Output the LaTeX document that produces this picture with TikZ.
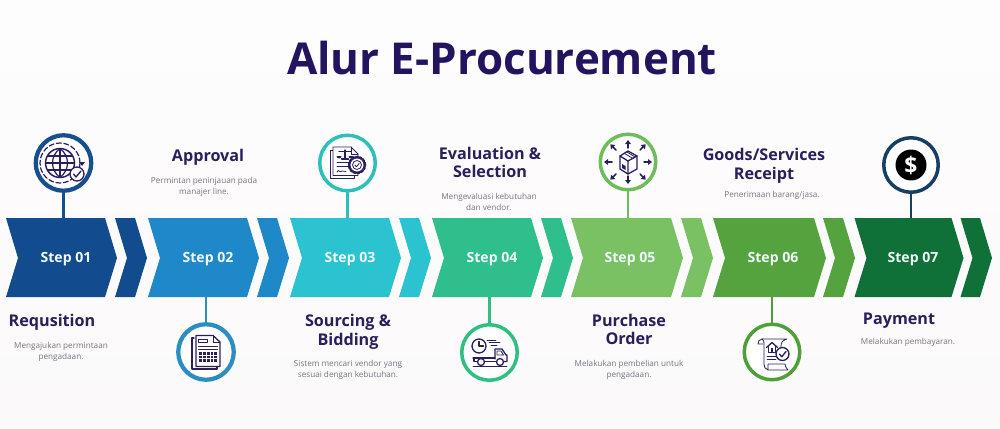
\documentclass[tikz,border=0pt]{standalone}
\usepackage{fontspec}
\setmainfont{Open Sans}
\newfontfamily\headfont{Open Sans}
\usetikzlibrary{calc}
\definecolor{ink}{HTML}{2A1E5C}
\definecolor{titleink}{HTML}{24135F}
\definecolor{bodyg}{HTML}{77757F}
\definecolor{bgtop}{HTML}{FEFDFD}
\definecolor{bgbot}{HTML}{FBF9FA}
\definecolor{cA}{HTML}{134B8F}
\definecolor{cB}{HTML}{1F88C9}
\definecolor{cC}{HTML}{2CC3D0}
\definecolor{cD}{HTML}{2FBF8C}
\definecolor{cE}{HTML}{79C163}
\definecolor{cF}{HTML}{54A33F}
\definecolor{cG}{HTML}{0F7038}
\definecolor{rA}{HTML}{174F8C}
\definecolor{rB}{HTML}{2A8FC0}
\definecolor{rC}{HTML}{2FBFBB}
\definecolor{rD}{HTML}{2FBF80}
\definecolor{rE}{HTML}{6FBC5C}
\definecolor{rF}{HTML}{4E9E3A}
\definecolor{rG}{HTML}{173F66}
\tikzset{
  x=0.02cm,y=-0.02cm,
  titletext/.style={font=\headfont\bfseries\fontsize{25}{30}\selectfont,text=titleink,inner sep=0pt},
  headtext/.style={font=\headfont\bfseries\fontsize{9.2}{10.6}\selectfont,text=ink,align=center,inner sep=0pt},
  bodytext/.style={font=\fontsize{4.65}{6.25}\selectfont,text=bodyg,align=center,inner sep=0pt},
  steptext/.style={font=\bfseries\fontsize{8}{9}\selectfont,text=white!94!cyan,inner sep=0pt},
  ringnode/.style={circle,draw=#1,fill=white,line width=0.085cm,minimum size=1.11cm,inner sep=0pt},
  link/.style={line width=0.045cm},
  ic/.style={draw=ink,line width=0.016cm,line join=round,line cap=round},
  icthick/.style={draw=ink,line width=0.026cm,line join=round,line cap=round},
}
% x, colour, body width, small offset, small width
\newcommand{\chevs}[5]{%
  \fill[#2] (#1,218) -- ++(#3,0) -- ++(12,40) -- ++(-12,39) -- (#1,297) -- ++(12,-39) -- cycle;
  \fill[#2] ({#1+#4},218) -- ++(#5,0) -- ++(12,40) -- ++(-12,39) -- ({#1+#4},297) -- ++(12,-39) -- cycle;
}
\begin{document}
\begin{tikzpicture}
\useasboundingbox (0,0) rectangle (1000,429);
\shade[top color=bgtop,bottom color=bgbot] (0,0) rectangle (1000,429);

\node[titletext] (title) at (502,58) {Alur E-Procurement};

% chevrons
\chevs{6}{cA}{99}{109}{20}
\chevs{148}{cB}{99}{109}{20}
\chevs{290}{cC}{99}{109}{20}
\chevs{432}{cD}{99}{109}{20}
\chevs{571}{cE}{100}{110}{20}
\chevs{713}{cF}{101}{110}{20}
\chevs{854.5}{cG}{97}{106}{19.5}

\node[steptext] (s1) at (66,259.5) {Step 01};
\node[steptext] (s2) at (208,259.5) {Step 02};
\node[steptext] (s3) at (350,259.5) {Step 03};
\node[steptext] (s4) at (492,259.5) {Step 04};
\node[steptext] (s5) at (630,259.5) {Step 05};
\node[steptext] (s6) at (773,259.5) {Step 06};
\node[steptext] (s7) at (913,259.5) {Step 07};

% anchors on the chevrons
\coordinate (a1) at (63.5,218);
\coordinate (a2) at (206,297);
\coordinate (a3) at (347.5,218);
\coordinate (a4) at (489.5,297);
\coordinate (a5) at (628,218);
\coordinate (a6) at (772,297);
\coordinate (a7) at (911,218);

% circles
\node[ringnode=rA] (c1) at (63.5,163) {};
\node[ringnode=rB] (c2) at (206,352) {};
\node[ringnode=rC,line width=0.07cm] (c3) at (347.5,163) {};
\node[ringnode=rD,line width=0.07cm] (c4) at (489.5,352.5) {};
\node[ringnode=rE,line width=0.07cm] (c5) at (628,162) {};
\node[ringnode=rF,line width=0.07cm] (c6) at (772,352) {};
\node[ringnode=rG,line width=0.07cm,minimum size=1.09cm] (c7) at (911,165) {};

% connectors
\draw[link,draw=rA] (c1) -- (a1);
\draw[link,draw=rB] (c2) -- (a2);
\draw[link,draw=rC] (c3) -- (a3);
\draw[link,draw=rD] (c4) -- (a4);
\draw[link,draw=rE] (c5) -- (a5);
\draw[link,draw=rF] (c6) -- (a6);
\draw[link,draw=rG] (c7) -- (a7);

% labels
\node[headtext] (h1) at (52,322) {Requsition};
\node[bodytext] (b1) at (61,351.5) {Mengajukan permintaan\\pengadaan.};
\node[headtext] (h2) at (208,157) {Approval};
\node[bodytext] (b2) at (204,186.5) {Permintan peninjauan pada\\manajer line.};
\node[headtext] (h3) at (348,331.5) {Sourcing \&\\Bidding};
\node[bodytext] (b3) at (348,369.5) {Sistem mencari vendor yang\\sesuai dengan kebutuhan.};
\node[headtext] (h4) at (490,162.5) {Evaluation \&\\Selection};
\node[bodytext] (b4) at (489,202) {Mengevaluasi kebutuhan\\dan vendor.};
\node[headtext] (h5) at (629,329.5) {Purchase\\Order};
\node[bodytext] (b5) at (629,369.5) {Melakukan pembelian untuk\\pengadaan.};
\node[headtext] (h6) at (764,166) {Goods/Services\\Receipt};
\node[bodytext] (b6) at (772,195.5) {Penerimaan barang/jasa.};
\node[headtext] (h7) at (899,321) {Payment};
\node[bodytext] (b7) at (908,342.5) {Melakukan pembayaran.};

% icon 1: globe
\begin{scope}[shift={(60,163)}]
  \draw[ic,line width=0.03cm] (0,0) circle[radius=0.29cm];
  \draw[ic,line width=0.024cm] (0,-14.5) .. controls (-10,-7) and (-10,7) .. (0,14.5);
  \draw[ic,line width=0.024cm] (0,-14.5) .. controls (10,-7) and (10,7) .. (0,14.5);
  \draw[ic,line width=0.024cm] (0,-14.5) -- (0,14.5) (-14.5,0) -- (14.5,0) (-12.5,-7) -- (12.5,-7) (-12.5,7) -- (12.5,7);
  \draw[ic,line width=0.024cm,dashed,dash pattern=on 0.1cm off 0.05cm] (0,0) circle[radius=0.4cm];
  \fill[ink] (19,-1) -- (25,-1) -- (22,3) -- cycle;
  \draw[icthick,fill=white] (17,11) circle[radius=0.14cm];
  \draw[icthick] (13.5,11) -- (16,14) -- (21,8);
\end{scope}

% icon 2: document with table
\begin{scope}[shift={(192,335)}]
  \draw[icthick] (2,3) -- (0,3) -- (0,34) -- (25,34) -- (25,32);
  \draw[icthick,fill=white] (4,0.5) -- (21,0.5) -- (28,7) -- (28,31.5) -- (4,31.5) -- cycle;
  \draw[ic] (21,0.5) -- (21,7) -- (28,7);
  \draw[ic] (6.5,4) rectangle (15,7);
  \draw[ic] (6.5,11) -- (25.5,11) (6.5,14) -- (25.5,14);
  \fill[ink] (7,17) rectangle (25,27);
  \draw[white,line width=0.008cm] (7,20.3) -- (25,20.3) (7,23.6) -- (25,23.6)
     (10.6,17) -- (10.6,27) (14.2,17) -- (14.2,27) (17.8,17) -- (17.8,27) (21.4,17) -- (21.4,27);
\end{scope}

% icon 3: contract with scales and gear
\begin{scope}[shift={(330,145)}]
  \draw[ic] (3,5) -- (0.5,5) -- (0.5,33.5) -- (24,33.5) -- (24,31);
  \draw[ic,fill=white] (3,2) -- (21,2) -- (28,9) -- (28,30.5) -- (3,30.5) -- cycle;
  \draw[ic] (21,2) -- (21,9) -- (28,9);
  \draw[icthick] (15,5) -- (15,13) (9,6.5) -- (21,6.5) (11.5,14) -- (18.5,14);
  \fill[ink] (6.5,11) arc[start angle=180,end angle=360,radius=0.05cm] -- cycle;
  \fill[ink] (18.5,11) arc[start angle=180,end angle=360,radius=0.05cm] -- cycle;
  \draw[ic] (7,17.5) -- (19,17.5) (7,21) -- (18,21);
  \draw[ic] (7,27) .. controls (9,23) and (10,29) .. (12,26) -- (16,26.5);
  \draw[ic,fill=white,dashed,dash pattern=on 0.05cm off 0.025cm,line width=0.05cm] (27,20) circle[radius=0.16cm];
  \draw[ic,fill=white] (27,20) circle[radius=0.14cm];
  \draw[ic] (27,20) circle[radius=0.09cm];
  \draw[ic] (24.8,20) -- (26.5,21.7) -- (29.2,18.5);
\end{scope}

% icon 4: clock and truck
\begin{scope}[shift={(472,338)}]
  \draw[icthick] (7,8) circle[radius=0.14cm];
  \draw[icthick] (7,3.5) -- (7,8) -- (11.5,8);
  \draw[ic] (15,2) -- (24,2) (17,4.5) -- (28,4.5) (19,7) -- (25,7);
  \draw[icthick] (23,21) -- (23,11) -- (30,11) -- (34,17) -- (35,17) -- (35,23.5) -- (32,23.5);
  \draw[ic] (25,13) -- (29,13) -- (31.5,17) -- (25,17) -- cycle;
  \draw[icthick] (1,20) -- (23,20) (2,20) -- (2,23.5) -- (5,23.5) (13,23.5) -- (24,23.5);
  \draw[icthick,fill=white] (9,24) circle[radius=0.07cm];
  \draw[icthick,fill=white] (28,24) circle[radius=0.07cm];
  \draw[ic] (1,28) -- (35,28);
\end{scope}

% icon 5: box with arrows
\begin{scope}[shift={(628,162)}]
  \draw[icthick] (-8,-6) -- (0,-11) -- (9,-6) -- (9,7) -- (0,12) -- (-8,7) -- cycle;
  \draw[icthick] (-8,-6) -- (0,-1) -- (9,-6) (0,-1) -- (0,12);
  \draw[ic] (-3.5,-8.5) -- (5,-3.5) (-1,-10) -- (7,-5);
  \fill[ink] (-6,2) -- (-2.5,4) -- (-2.5,8) -- (-6,6) -- cycle;
  \foreach \ang/\rr in {90/13,45/16,0/15,-45/16,-90/13,-135/16,180/15,135/16}{
    \begin{scope}[rotate=\ang]
      \draw[icthick,line width=0.03cm] (\rr+1,0) -- (\rr+6,0);
      \fill[ink] (\rr+9,0) -- (\rr+5,-3) -- (\rr+5,3) -- cycle;
    \end{scope}
  }
\end{scope}

% icon 6: scroll with house and check
\begin{scope}[shift={(757,338)}]
  \draw[ic] (5,1) -- (30,1) .. controls (26,2) and (24,4) .. (24,8) -- (24,10);
  \draw[ic] (5,1) .. controls (2,1) and (1,4) .. (1,6) -- (6,6);
  \draw[ic] (5,1) .. controls (7,2) and (7,4) .. (7,6) -- (7,26) .. controls (7,29) and (8,31) .. (11,32) -- (31,32) .. controls (29,30) and (28,28) .. (28,26) -- (11,26) .. controls (11,28) and (11,30) .. (11,32);
  \draw[icthick] (9.5,9.5) -- (15,4.5) -- (20.5,9.5);
  \draw[icthick] (11.5,8.5) -- (11.5,14.5) -- (18.5,14.5) -- (18.5,8.5);
  \fill[ink] (13.8,10) rectangle (16.2,14.5);
  \draw[ic] (10,18) -- (20,18) (10,21.5) -- (19,21.5);
  \draw[icthick,fill=white] (25.5,16) circle[radius=0.13cm];
  \draw[icthick] (22.3,16) -- (24.8,18.8) -- (29,13.5);
\end{scope}

% icon 7: dollar
\fill[black] (c7.center) circle[radius=0.31cm];
\node[font=\bfseries\fontsize{13}{13}\selectfont,text=white,inner sep=0pt] (d7) at (c7.center) {\$};
\end{tikzpicture}
\end{document}
